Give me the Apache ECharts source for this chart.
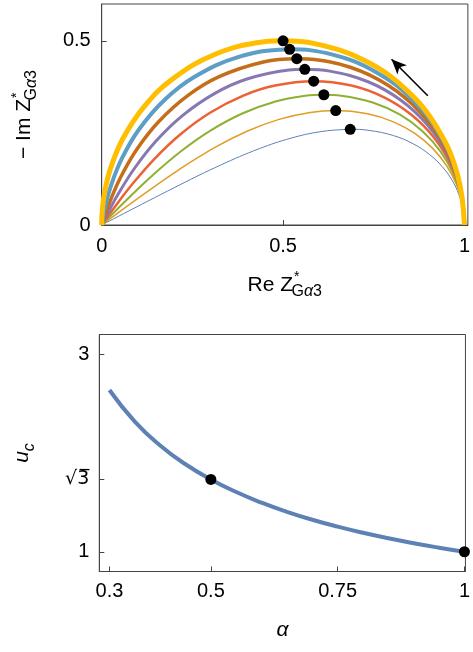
<!DOCTYPE html>
<html>
<head>
<meta charset="utf-8">
<script src="https://cdn.jsdelivr.net/npm/echarts@6/dist/echarts.min.js"></script>
<style>
  html, body { margin: 0; padding: 0; background: #fff; }
  #main { width: 473px; height: 652px; }
</style>
</head>
<body>
<div id="main"></div>
<script>
// ---- top panel: arcs for each alpha (innermost first), points as [Re, -Im]
var alphaList = [0.3, 0.4, 0.5, 0.6, 0.7, 0.8, 0.9, 1.0];
var arc03 = [[1,0],[0.9962,0.0418],[0.9848,0.0827],[0.9656,0.1220],[0.9384,0.1587],[0.9030,0.1919],[0.8586,0.2205],[0.8042,0.2428],[0.7374,0.2568],[0.6851,0.2599],[0.6767,0.2597],[0.6022,0.2532],[0.5224,0.2359],[0.4341,0.2071],[0.3274,0.1625],[0.2151,0.1089],[0,0]];
var arc04 = [[1,0],[0.9946,0.0556],[0.9782,0.1097],[0.9510,0.1609],[0.9130,0.2074],[0.8641,0.2478],[0.8042,0.2801],[0.7328,0.3020],[0.6452,0.3107],[0.5748,0.3056],[0.4889,0.2868],[0.4020,0.2551],[0.3124,0.2107],[0.2135,0.1506],[0.1217,0.0878],[0,0]];
var arc05 = [[1,0],[0.9927,0.0694],[0.9709,0.1365],[0.9349,0.1987],[0.8852,0.2538],[0.8225,0.2994],[0.7473,0.3327],[0.6603,0.3511],[0.6124,0.3536],[0.5615,0.3509],[0.4791,0.3355],[0.3876,0.3028],[0.3008,0.2569],[0.2177,0.1995],[0.1344,0.1298],[0.0663,0.0658],[0,0]];
var arc06 = [[1,0],[0.9907,0.0832],[0.9629,0.1629],[0.9174,0.2356],[0.8555,0.2979],[0.7785,0.3466],[0.6886,0.3786],[0.5844,0.3905],[0.4778,0.3787],[0.3904,0.3515],[0.2986,0.3049],[0.2173,0.2465],[0.1456,0.1798],[0.0808,0.1064],[0.0344,0.0469],[0,0]];
var arc07 = [[1,0],[0.9884,0.0969],[0.9542,0.1889],[0.8986,0.2713],[0.8238,0.3396],[0.7327,0.3896],[0.6287,0.4177],[0.5598,0.4228],[0.5159,0.4208],[0.3984,0.3956],[0.3096,0.3561],[0.2218,0.2965],[0.1498,0.2281],[0.0920,0.1561],[0.0454,0.0840],[0.0166,0.0322],[0,0]];
var arc08 = [[1,0],[0.9860,0.1106],[0.9448,0.2147],[0.8785,0.3059],[0.7904,0.3786],[0.6852,0.4282],[0.5683,0.4504],[0.5379,0.4514],[0.4457,0.4426],[0.3239,0.4029],[0.2370,0.3514],[0.1568,0.2805],[0.0965,0.2051],[0.0532,0.1316],[0.0229,0.0643],[0.0071,0.0214],[0,0]];
var arc09 = [[1,0],[0.9834,0.1242],[0.9347,0.2400],[0.8571,0.3394],[0.7555,0.4154],[0.6365,0.4624],[0.5181,0.4769],[0.5078,0.4768],[0.3778,0.4566],[0.2551,0.4019],[0.1729,0.3393],[0.1026,0.2592],[0.0554,0.1800],[0.0260,0.1082],[0.0092,0.0480],[0.0023,0.0138],[0,0]];
var arc10 = [[1,0],[0.9806,0.1378],[0.9240,0.2650],[0.8346,0.3716],[0.7192,0.4494],[0.5868,0.4924],[0.5,0.5],[0.4477,0.4973],[0.3127,0.4636],[0.1922,0.3940],[0.1170,0.3214],[0.0585,0.2347],[0.0245,0.1545],[0.0076,0.0868],[0.0012,0.0349],[0,0]];
var arcs = [arc03, arc04, arc05, arc06, arc07, arc08, arc09, arc10];

// maxima of -Im (black dots)
var peakRe = [0.6851, 0.6452, 0.6124, 0.5844, 0.5598, 0.5379, 0.5181, 0.5];
var peakIm = [0.2599, 0.3107, 0.3536, 0.3905, 0.4228, 0.4514, 0.4769, 0.5];

// arrow (tail -> head), data coords
var arrowFrom = [0.899, 0.351];
var arrowTo = [0.799, 0.450];

var reTicks = [0, 0.5, 1];
var imTicks = [0, 0.5];

// ---- bottom panel: u_c vs alpha
var alphaGrid = [0.30, 0.35, 0.40, 0.45, 0.50, 0.55, 0.60, 0.65, 0.70, 0.75, 0.80, 0.85, 0.90, 0.95, 1.00];
var ucValues = [2.6379, 2.3184, 2.0769, 1.8862, 1.7321, 1.6045, 1.4966, 1.4046, 1.3242, 1.2542, 1.1918, 1.1364, 1.0865, 1.0412, 1.0];
var ucDotAlpha = [0.5, 1.0];
var ucDotValue = [1.7321, 1.0];
var alphaTicks = [0.3, 0.5, 0.75, 1];
var ucTicks = [1, 1.7321, 3];
var ucTickLabels = ['1', '{sq|\u221A3\u0305}', '3'];

var arcColors = ['#5E81B5', '#E19C24', '#8FB032', '#EB6235', '#8778B3', '#C56E1A', '#5D9EC7', '#FFBF00'];
var arcWidths = [1, 1.5, 2, 2.5, 3, 3.5, 4, 5];

var F = '"Liberation Sans", Arial, "DejaVu Sans", sans-serif';
var frameColor = '#444';
var tickFont = 20;

var myChart = echarts.init(document.getElementById('main'));

var nameRich = {
    m: { fontSize: 21, fontFamily: F, color: '#000', lineHeight: 30 },
    mi: { fontSize: 21, fontFamily: F, fontStyle: 'italic', color: '#000', lineHeight: 30 },
    sup: { fontSize: 14, fontFamily: F, color: '#000', lineHeight: 14, verticalAlign: 'top', padding: [0, 0, 0, 1] },
    // G starts under the star
    sbg: { fontSize: 16, fontFamily: F, color: '#000', lineHeight: 16, verticalAlign: 'bottom', padding: [0, 0, 0, -8] },
    sb: { fontSize: 16, fontFamily: F, color: '#000', lineHeight: 16, verticalAlign: 'bottom' },
    si: { fontSize: 16, fontFamily: F, fontStyle: 'italic', color: '#000', lineHeight: 16, verticalAlign: 'bottom' }
};

function tickAxis(extra) {
    var base = {
        type: 'value',
        splitLine: { show: false },
        axisLine: { show: true, lineStyle: { color: frameColor, width: 1 } },
        axisTick: { show: true, inside: true, length: 5, lineStyle: { color: frameColor } },
        axisLabel: { color: '#000', fontSize: tickFont, fontFamily: F },
        nameLocation: 'middle',
        nameTextStyle: { rich: nameRich }
    };
    for (var k in extra) {
        if (typeof extra[k] === 'object' && base[k] && !Array.isArray(extra[k])) {
            base[k] = Object.assign({}, base[k], extra[k]);
        } else {
            base[k] = extra[k];
        }
    }
    return base;
}

var series = [];
arcs.forEach(function (arc, i) {
    series.push({
        name: 'alpha ' + alphaList[i],
        type: 'line',
        xAxisIndex: 0,
        yAxisIndex: 0,
        data: arc,
        showSymbol: false,
        smooth: 0.4,
        clip: false,
        lineStyle: { color: arcColors[i], width: arcWidths[i] },
        z: 2 + i
    });
});

series.push({
    type: 'scatter',
    xAxisIndex: 0,
    yAxisIndex: 0,
    data: peakRe.map(function (r, i) { return [r, peakIm[i]]; }),
    symbolSize: 11,
    itemStyle: { color: '#000', opacity: 1 },
    z: 20,
    markLine: {
        silent: true,
        symbol: ['none', 'arrow'],
        symbolSize: [10, 15],
        lineStyle: { color: '#000', width: 1.6, type: 'solid' },
        label: { show: false },
        data: [[{ coord: arrowFrom }, { coord: arrowTo }]]
    }
});

series.push({
    type: 'line',
    xAxisIndex: 1,
    yAxisIndex: 1,
    data: alphaGrid.map(function (a, i) { return [a, ucValues[i]]; }),
    showSymbol: false,
    smooth: true,
    clip: false,
    lineStyle: { color: '#5E81B5', width: 4 },
    z: 2
});

series.push({
    type: 'scatter',
    xAxisIndex: 1,
    yAxisIndex: 1,
    data: ucDotAlpha.map(function (a, i) { return [a, ucDotValue[i]]; }),
    symbolSize: 11,
    clip: false,
    itemStyle: { color: '#000', opacity: 1 },
    z: 20
});

var option = {
    animation: false,
    backgroundColor: '#fff',
    grid: [
        { left: 101.7, top: 4, width: 370.5, height: 221, show: true, borderColor: frameColor, borderWidth: 1, containLabel: false },
        { left: 99.3, top: 334.5, width: 374.3, height: 237, show: true, borderColor: frameColor, borderWidth: 1, containLabel: false }
    ],
    xAxis: [
        tickAxis({
            gridIndex: 0, min: 0, max: 1.0095,
            axisTick: { customValues: reTicks },
            axisLabel: { customValues: reTicks, margin: 11 },
            name: '{m|Re Z}{sup|*}{sbg|G}{si|\u03B1}{sb|3}',
            nameGap: 45
        }),
        tickAxis({
            gridIndex: 1, min: 0.28, max: 1.002,
            axisTick: { customValues: alphaTicks },
            axisLabel: { customValues: alphaTicks, margin: 10 },
            name: '{mi|\u03B1}',
            nameGap: 44
        })
    ],
    yAxis: [
        tickAxis({
            gridIndex: 0, min: 0, max: 0.6,
            axisTick: { customValues: imTicks },
            axisLabel: { customValues: imTicks, margin: 11 },
            name: '{m|\u2212 Im Z}{sup|*}{sbg|G}{si|\u03B1}{sb|3}',
            nameGap: 62
        }),
        tickAxis({
            gridIndex: 1, min: 0.8, max: 3.2,
            axisTick: { customValues: ucTicks },
            axisLabel: {
                customValues: ucTicks, margin: 10,
                rich: { sq: { fontFamily: '"DejaVu Sans"', fontSize: 19, color: '#000' } },
                formatter: function (v) {
                    for (var i = 0; i < ucTicks.length; i++) {
                        if (Math.abs(ucTicks[i] - v) < 1e-3) return ucTickLabels[i];
                    }
                    return '';
                }
            },
            name: '{mi|u}{si|c}',
            nameGap: 62
        })
    ],
    series: series
};

myChart.setOption(option);
</script>
</body>
</html>
